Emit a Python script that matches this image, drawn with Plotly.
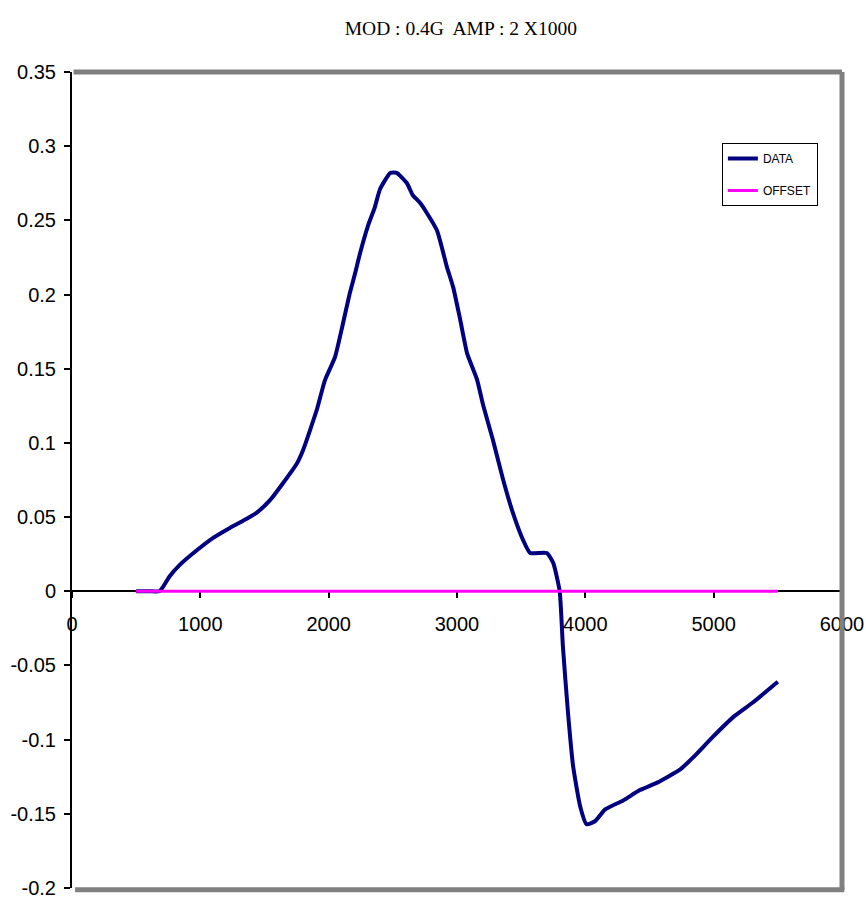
import plotly.graph_objects as go

data_x = [500, 600, 680, 710, 760, 840, 975, 1100, 1230, 1365, 1440, 1545, 1645, 1755, 1800,
          1910, 1970, 2050, 2105, 2165, 2205, 2245, 2305, 2360, 2400, 2480, 2530, 2610, 2655,
          2710, 2765, 2845, 2920, 2970, 3025, 3080, 3155, 3205, 3280, 3360, 3435, 3515, 3570,
          3700, 3750, 3800, 3825, 3865, 3905, 3960, 4010, 4075, 4155, 4295, 4425, 4560, 4740,
          4840, 4995, 5150, 5305, 5500]
data_y = [0.0, 0.0, 0.0, 0.003, 0.01, 0.0178, 0.0278, 0.036, 0.0427, 0.049, 0.053, 0.0616,
          0.073, 0.0865, 0.095, 0.123, 0.142, 0.158, 0.178, 0.201, 0.214, 0.228, 0.246, 0.259,
          0.271, 0.282, 0.282, 0.275, 0.267, 0.262, 0.255, 0.243, 0.219, 0.205, 0.183, 0.16,
          0.143, 0.125, 0.102, 0.075, 0.053, 0.0345, 0.0258, 0.0258, 0.019, 0.0, -0.037, -0.082,
          -0.118, -0.145, -0.157, -0.155, -0.147, -0.141, -0.134, -0.129, -0.12, -0.112, -0.098,
          -0.085, -0.075, -0.061]

offset_x = [500, 5500]
offset_y = [0, 0]

x_ticks = [0, 1000, 2000, 3000, 4000, 5000, 6000]
y_ticks = [0.35, 0.3, 0.25, 0.2, 0.15, 0.1, 0.05, 0, -0.05, -0.1, -0.15, -0.2]
y_ticktext = ["0.35", "0.3", "0.25", "0.2", "0.15", "0.1", "0.05", "0", "-0.05", "-0.1", "-0.15", "-0.2"]

tick_font = dict(size=20, family="Liberation Sans Narrow, Liberation Sans", color="black")

fig = go.Figure()
fig.add_trace(go.Scatter(x=data_x, y=data_y, mode="lines", name="DATA", legendgroup="a",
                         line=dict(color="#000080", width=4, shape="spline", smoothing=0.5)))
fig.add_trace(go.Scatter(x=offset_x, y=offset_y, mode="lines", name="OFFSET", legendgroup="b",
                         line=dict(color="#FF00FF", width=3)))

ymin, ymax = -0.2, 0.35
fig.update_layout(
    width=866, height=900,
    margin=dict(l=72, r=24, t=72, b=12, autoexpand=False),
    paper_bgcolor="white", plot_bgcolor="white",
    title=dict(text="MOD : 0.4G  AMP : 2 X1000", x=0.505, xref="paper", xanchor="center",
               y=0.969, yref="container", yanchor="middle", automargin=False,
               font=dict(family="Liberation Serif", size=19.5, color="black")),
    font=dict(family="Liberation Sans", color="black"),
    xaxis=dict(range=[0, 6000], tickvals=x_ticks, showgrid=False, zeroline=False,
               showline=True, linecolor="black", linewidth=2, automargin=False,
               ticks="outside", ticklen=6, tickcolor="black", tickwidth=2,
               ticklabelstandoff=9,
               anchor="free", position=(0 - ymin) / (ymax - ymin), layer="below traces",
               tickfont=tick_font),
    yaxis=dict(range=[ymin, ymax], tickvals=y_ticks, ticktext=y_ticktext, showgrid=False,
               zeroline=False, showline=True, linecolor="black", linewidth=2, automargin=False,
               ticks="outside", ticklen=6, tickcolor="black", tickwidth=2,
               ticklabelstandoff=4,
               tickfont=tick_font),
    legend=dict(x=0.844, y=0.913, xanchor="left", yanchor="top",
                bordercolor="black", borderwidth=1, bgcolor="white",
                font=dict(size=12, family="Liberation Sans Narrow, Liberation Sans"),
                tracegroupgap=13),
    showlegend=True,
)

gray = "#808080"
fig.add_shape(type="line", xref="paper", yref="paper", x0=0.002, x1=1.0, y0=1, y1=1,
              line=dict(color=gray, width=5))
fig.add_shape(type="line", xref="paper", yref="paper", x0=1.0, x1=1.0, y0=-0.002, y1=1,
              line=dict(color=gray, width=5))
fig.add_shape(type="line", xref="paper", yref="paper", x0=0.004, x1=1.003, y0=-0.002, y1=-0.002,
              line=dict(color=gray, width=5))

fig.write_html("out.html", config={"displayModeBar": False},
               post_script="document.body.style.margin='0';document.body.style.overflow='hidden';")
